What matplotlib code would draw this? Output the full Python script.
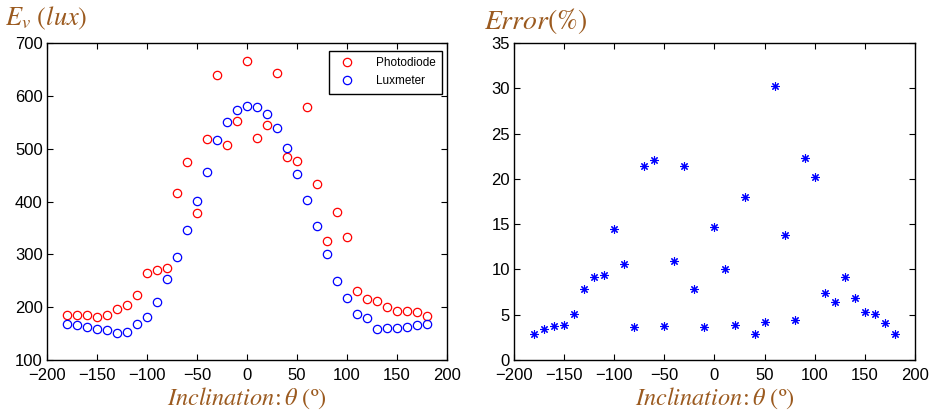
import numpy as np
import matplotlib
matplotlib.use("Agg")
import matplotlib.pyplot as plt

plt.rcParams['font.family'] = ['Liberation Sans', 'DejaVu Sans']
plt.rcParams['mathtext.fontset'] = 'stix'

angle = list(range(-180, 181, 10))

photodiode = [185, 186, 186, 182, 186, 197, 205, 223, 265, 270, 275, 417, 474, 378,
              518, 640, 506, 553, 665, 521, 544, 643, 485, 476, 579, 434, 326, 380,
              333, 230, 216, 212, 200, 193, 193, 191, 184]
luxmeter = [169, 166, 163, 159, 156, 151, 153, 169, 181, 209, 254, 295, 346, 401,
            455, 516, 551, 573, 581, 579, 566, 540, 501, 452, 403, 354, 300, 249,
            218, 188, 179, 159, 161, 161, 163, 166, 169]
error_pct = [2.85, 3.37, 3.78, 3.89, 5.1, 7.85, 9.19, 9.37, 14.48, 10.63, 3.67, 21.44,
             22.04, 3.78, 10.96, 21.44, 7.85, 3.67, 14.7, 10.04, 3.85, 18.0, 2.85, 4.19,
             30.3, 13.8, 4.4, 22.33, 20.19, 7.37, 6.44, 9.22, 6.85, 5.33, 5.04, 4.07, 2.85]

brown = '#9b5a1f'

fig = plt.figure(figsize=(9.35, 4.13), dpi=100)
ax1 = fig.add_axes([0.0503, 0.1283, 0.4278, 0.7676])
ax2 = fig.add_axes([0.5497, 0.1283, 0.4289, 0.7676])

ax1.plot(angle, photodiode, 'o', mfc='none', mec='red', ms=6, mew=0.9, label='Photodiode')
ax1.plot(angle, luxmeter, 'o', mfc='none', mec='blue', ms=6, mew=0.9, label='Luxmeter')
ax1.set_xlim(-200, 200)
ax1.set_ylim(100, 700)
ax1.set_yticks(range(100, 701, 100))
leg = ax1.legend(loc='upper right', fontsize=8.5, fancybox=False, framealpha=1,
                 edgecolor='black', borderpad=0.55, handletextpad=1.4,
                 borderaxespad=0, bbox_to_anchor=(0.9875, 0.975))
leg.get_frame().set_linewidth(1.0)

ax2.plot(angle, error_pct, ls='none', marker=(8, 2, 0), color='blue', ms=6, mew=0.8)
ax2.set_xlim(-200, 200)
ax2.set_ylim(0, 35)
ax2.set_yticks(range(0, 36, 5))

for ax in (ax1, ax2):
    ax.set_xticks(range(-200, 201, 50))
    ax.tick_params(direction='in', top=True, right=True, labelsize=12, length=4)
    ax.tick_params(axis='x', pad=6)
    ax.tick_params(axis='y', pad=3)
    for s in ax.spines.values():
        s.set_linewidth(1.0)

fig.text(0.005, 0.955, r'$E_v\ (lux)$', color=brown, fontsize=19, va='center', ha='left')
fig.text(0.518, 0.95, r'$Error(\%)$', color=brown, fontsize=20, va='center', ha='left')
xl = r'$Inclination\!:\theta\ (\mathrm{º})$'
fig.text(0.264, 0.004, xl, color=brown, fontsize=17.5, va='bottom', ha='center')
fig.text(0.764, 0.004, xl, color=brown, fontsize=17.5, va='bottom', ha='center')

fig.savefig('out.png', dpi=100)
